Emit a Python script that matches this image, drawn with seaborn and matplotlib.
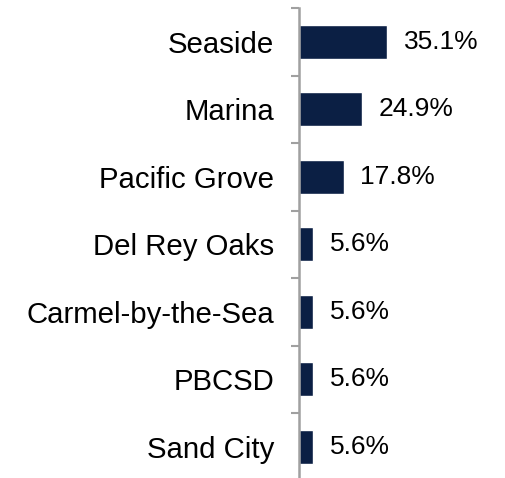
import matplotlib
matplotlib.use("Agg")
import matplotlib.pyplot as plt
import seaborn as sns
import pandas as pd
from matplotlib.ticker import FixedLocator

cities = ["Seaside", "Marina", "Pacific Grove", "Del Rey Oaks",
          "Carmel-by-the-Sea", "PBCSD", "Sand City"]
shares = [35.1, 24.9, 17.8, 5.6, 5.6, 5.6, 5.6]
share_labels = ["35.1%", "24.9%", "17.8%", "5.6%", "5.6%", "5.6%", "5.6%"]

df = pd.DataFrame({"city": cities, "share": shares})

sns.set_style("white")
plt.rcParams["font.family"] = ["Liberation Sans", "DejaVu Sans"]

fig = plt.figure(figsize=(5.05, 4.78), dpi=100)
ax = fig.add_axes([299 / 505, -2.5 / 478, 1 - 299 / 505, 472.5 / 478])

sns.barplot(data=df, x="share", y="city", orient="h", color="#0b1f44",
            width=0.5, saturation=1, ax=ax)

ax.set_xlim(0, 82)
ax.set_ylim(len(cities) - 0.5, -0.5)
ax.set_xlabel("")
ax.set_ylabel("")
ax.set_xticks([])

for sp in ["top", "right", "bottom"]:
    ax.spines[sp].set_visible(False)
ax.spines["left"].set_color("#a0a0a0")
ax.spines["left"].set_linewidth(1.8)

ax.tick_params(axis="y", which="major", left=False, length=0, pad=18,
               labelsize=21.2, labelcolor="#000000")
ax.yaxis.set_minor_locator(FixedLocator([i - 0.5 for i in range(len(cities) + 1)]))
ax.tick_params(axis="y", which="minor", left=True, length=6, width=1.5,
               color="#a0a0a0", direction="out")

for i, (v, lab) in enumerate(zip(shares, share_labels)):
    ax.annotate(lab, xy=(v, i), xytext=(12, 0), textcoords="offset points",
                ha="left", va="center", fontsize=19, color="#000000")

fig.savefig("out.png", dpi=100)
